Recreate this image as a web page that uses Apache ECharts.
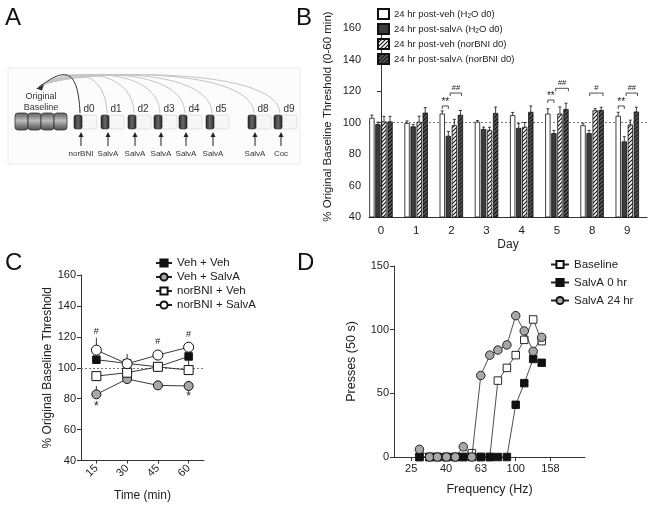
<!DOCTYPE html>
<html><head><meta charset="utf-8">
<script src="https://cdn.jsdelivr.net/npm/echarts@6/dist/echarts.min.js"></script>
<style>html,body{margin:0;padding:0;background:#fff}#c{width:652px;height:509px}</style>
</head><body><div id="c"></div>
<script>
const FONT = '"Liberation Sans",Arial,sans-serif';

// ---------- Panel A (schematic) ----------
const aDays = ['d0','d1','d2','d3','d4','d5','d8','d9'];
const aDrugs = ['norBNI','SalvA','SalvA','SalvA','SalvA','SalvA','SalvA','Coc'];

// ---------- Panel B ----------
const dayLabels = ['0','1','2','3','4','5','8','9'];
const bNames = ['24 hr post-veh (H2O d0)','24 hr post-salvA (H2O d0)','24 hr post-veh (norBNI d0)','24 hr post-salvA (norBNI d0)'];
const bVehH2O     = [102.7, 99.4, 105.4, 100.2, 104.4, 105.4, 98.0, 104.0];
const bVehH2OErr  = [2.0, 1.6, 2.0, 1.0, 2.0, 3.3, 1.5, 2.5];
const bSalvH2O    = [98.7, 97.3, 91.3, 95.6, 96.3, 93.0, 93.0, 87.7];
const bSalvH2OErr = [1.5, 1.5, 3.0, 1.5, 3.0, 2.0, 2.0, 3.3];
const bVehNor     = [100.4, 100.2, 98.0, 95.0, 97.0, 105.4, 107.5, 98.5];
const bVehNorErr  = [3.5, 3.8, 4.0, 2.0, 3.0, 4.5, 1.3, 3.0];
const bSalvNor    = [100.4, 106.0, 104.6, 105.8, 106.5, 108.3, 107.7, 106.7];
const bSalvNorErr = [3.5, 3.5, 3.0, 4.0, 4.0, 4.0, 2.0, 3.0];
const bSigDay  = [2, 2, 5, 5, 6, 7, 7];
const bSigFrom = [0, 1.3, 0, 1.3, 1.1, 0, 1.3];
const bSigTo   = [1, 3.2, 1, 3.4, 3.3, 1, 3.2];
const bSigY    = [110.5, 118.7, 114.3, 121.7, 118.7, 110.5, 118.7];
const bSigText = ['**','##','**','##','#','**','##'];

// ---------- Panel C ----------
const cTimes = ['15','30','45','60'];
const cNames = ['Veh + Veh','Veh + SalvA','norBNI + Veh','norBNI + SalvA'];
const cVehVeh   = [105.2, 102.8, 100.6, 107.3];
const cVehSalv  = [82.8, 92.7, 88.6, 88.2];
const cNorVeh   = [94.6, 96.8, 100.6, 98.5];
const cNorSalv  = [111.4, 102.6, 108.2, 113.3];
const cVehVehErr  = [0, 0, 0, -6];
const cVehSalvErr = [5.4, 0, 3, 3.5];
const cNorVehErr  = [0, 0, 0, 0];
const cNorSalvErr = [8, 6.4, 3, 3];
const cMarkIdx  = [0, 2, 3, 0, 3];
const cMarkY    = [123.5, 117, 121.5, 75, 81.5];
const cMarkText = ['#','#','#','*','*'];

// ---------- Panel D ----------
const dNames = ['Baseline','SalvA 0 hr','SalvA 24 hr'];
const dFreq     = [28, 32, 35.5, 40, 45, 50, 56, 63, 71, 79, 89, 100, 112, 126, 141];
const dBaseline = [0, 0, 0, 0, 0, 0, 3, 0, 0, 60, 70, 80, 92, 108, 91];
const dSalv0    = [0, 0, 0, 0, 0, 0, 0, 0, 0, 0, 0, 41, 58, 77, 74];
const dSalv24   = [6, 0, 0, 0, 0, 8, 0, 64, 80, 84, 88, 111, 99, 83, 94];

// ---------- helpers ----------
function hatch(bg, fg) {
  const c = document.createElement('canvas'); c.width = 4; c.height = 4;
  const g = c.getContext('2d');
  g.fillStyle = bg; g.fillRect(0, 0, 4, 4);
  g.strokeStyle = fg; g.lineWidth = 1.1;
  g.beginPath();
  g.moveTo(0, 4); g.lineTo(4, 0);
  g.moveTo(-1, 1); g.lineTo(1, -1);
  g.moveTo(3, 5); g.lineTo(5, 3);
  g.stroke();
  return { image: c, repeat: 'repeat' };
}
const bFills = ['#ffffff', '#3c3c3c', hatch('#ffffff', '#111111'), hatch('#5a5a5a', '#111111')];
const BAR_STEP = 0.172, BAR_W = 0.128;

function barRender(sIdx) {
  return function (params, api) {
    const x = api.value(0) + (sIdx - 1.5) * BAR_STEP;
    const v = api.value(1), e = api.value(2);
    const top = api.coord([x, v]);
    const base = api.coord([x, 40]);
    const et = api.coord([x, v + e]);
    const w = api.size([BAR_W, 0])[0];
    const cap = 3;
    return { type: 'group', children: [
      { type: 'line', shape: { x1: top[0], y1: top[1], x2: top[0], y2: et[1] }, style: { stroke: '#111', lineWidth: 0.8 } },
      { type: 'line', shape: { x1: top[0] - cap / 2, y1: et[1], x2: top[0] + cap / 2, y2: et[1] }, style: { stroke: '#111', lineWidth: 0.8 } },
      { type: 'rect', shape: { x: top[0] - w / 2, y: top[1], width: w, height: base[1] - top[1] }, style: { fill: bFills[sIdx], stroke: '#111', lineWidth: 0.8 } }
    ]};
  };
}
function sigRender(params, api) {
  const i = params.dataIndex;
  const d = api.value(0), y = api.value(3);
  const a = api.coord([d + (api.value(1) - 1.5) * BAR_STEP, y]);
  const b = api.coord([d + (api.value(2) - 1.5) * BAR_STEP, y]);
  const small = bSigText[i].indexOf('#') >= 0;
  return { type: 'group', children: [
    { type: 'polyline', shape: { points: [[a[0], a[1] + 3], [a[0], a[1]], [b[0], b[1]], [b[0], b[1] + 3]] }, style: { stroke: '#222', lineWidth: 0.8, fill: null } },
    { type: 'text', x: (a[0] + b[0]) / 2, y: a[1] - (small ? 1.5 : -1.5), style: { text: bSigText[i], fill: '#222', font: (small ? '7.5px ' : '10px ') + FONT, align: 'center', verticalAlign: 'bottom' } }
  ]};
}
function errRender(params, api) {
  const x = api.value(0), v = api.value(1), e = api.value(2);
  const p = api.coord([x, v]), q = api.coord([x, v + e]);
  const off = (e > 0 ? -1 : 1) * 4;
  return { type: 'line', shape: { x1: p[0], y1: p[1] + off, x2: q[0], y2: q[1] }, style: { stroke: '#222', lineWidth: 0.9 } };
}
function markRender(params, api) {
  const i = params.dataIndex;
  const p = api.coord([api.value(0), api.value(1)]);
  return { type: 'text', x: p[0], y: p[1], style: { text: cMarkText[i], fill: '#222', font: (cMarkText[i] === '*' ? '12px ' : '9px ') + FONT, align: 'center', verticalAlign: 'middle' } };
}

// ---------- build series ----------
const bVals = [bVehH2O, bSalvH2O, bVehNor, bSalvNor];
const bErrs = [bVehH2OErr, bSalvH2OErr, bVehNorErr, bSalvNorErr];
const series = [];
bVals.forEach(function (vals, s) {
  series.push({
    name: bNames[s], type: 'custom', xAxisIndex: 0, yAxisIndex: 0,
    renderItem: barRender(s),
    itemStyle: { color: bFills[s], borderColor: '#111', borderWidth: 0.8 },
    encode: { x: 0, y: 1 },
    data: vals.map(function (v, i) { return [i, v, bErrs[s][i]]; }),
    z: 3,
    markLine: s === 0 ? { silent: true, symbol: ['none', 'none'], label: { show: false }, lineStyle: { type: [2, 2], color: '#777', width: 1 }, data: [{ yAxis: 100 }], z: 1 } : undefined
  });
});
series.push({
  type: 'custom', name: 'sigB', xAxisIndex: 0, yAxisIndex: 0, renderItem: sigRender,
  encode: { x: 0, y: 3 },
  data: bSigDay.map(function (d, i) { return [d, bSigFrom[i], bSigTo[i], bSigY[i]]; }), z: 4
});

// Panel C
const cVals = [cVehVeh, cVehSalv, cNorVeh, cNorSalv];
const cErrs = [cVehVehErr, cVehSalvErr, cNorVehErr, cNorSalvErr];
const cSym = [
  { symbol: 'rect', size: 7.5, fill: '#111' },
  { symbol: 'circle', size: 9, fill: '#a8a8a8' },
  { symbol: 'rect', size: 9, fill: '#ffffff' },
  { symbol: 'circle', size: 10, fill: '#ffffff' }
];
cVals.forEach(function (vals, s) {
  series.push({
    type: 'custom', name: 'errC' + s, xAxisIndex: 1, yAxisIndex: 1, renderItem: errRender,
    encode: { x: 0, y: 1 }, z: 2,
    data: vals.map(function (v, i) { return [i, v, cErrs[s][i]]; }).filter(function (r) { return r[2] !== 0; })
  });
});
cVals.forEach(function (vals, s) {
  series.push({
    name: cNames[s], type: 'line', xAxisIndex: 1, yAxisIndex: 1, data: vals,
    symbol: cSym[s].symbol, symbolSize: cSym[s].size, showAllSymbol: true,
    lineStyle: { color: '#222', width: 0.9 },
    itemStyle: { color: cSym[s].fill, borderColor: '#111', borderWidth: 1, opacity: 1 },
    z: 5 + s,
    markLine: s === 0 ? { silent: true, symbol: ['none', 'none'], label: { show: false }, lineStyle: { type: [2, 2], color: '#777', width: 1 }, data: [{ yAxis: 100 }] } : undefined
  });
});
series.push({
  type: 'custom', name: 'markC', xAxisIndex: 1, yAxisIndex: 1, renderItem: markRender,
  encode: { x: 0, y: 1 },
  data: cMarkIdx.map(function (c, i) { return [c, cMarkY[i]]; }), z: 10
});

// Panel D
const dVals = [dBaseline, dSalv0, dSalv24];
const dSym = [
  { symbol: 'rect', size: 7.5, fill: '#ffffff' },
  { symbol: 'rect', size: 7.5, fill: '#111111' },
  { symbol: 'circle', size: 8.5, fill: '#a8a8a8' }
];
dVals.forEach(function (vals, s) {
  series.push({
    name: dNames[s], type: 'line', xAxisIndex: 2, yAxisIndex: 2,
    data: vals.map(function (v, i) { return [dFreq[i], v]; }),
    symbol: dSym[s].symbol, symbolSize: dSym[s].size, showAllSymbol: true,
    lineStyle: { color: '#222', width: 0.8 },
    itemStyle: { color: dSym[s].fill, borderColor: '#111', borderWidth: 0.9, opacity: 1 },
    z: 5 + s
  });
});

// ---------- axes ----------
const lineCol = '#333', txtCol = '#222';
function yAx(grid, min, max, interval, name, gap, margin, nameSize, namePad) {
  return {
    gridIndex: grid, type: 'value', min: min, max: max, interval: interval,
    axisLine: { show: true, lineStyle: { color: lineCol, width: 1 } },
    axisTick: { show: true, length: 4, lineStyle: { color: lineCol } },
    splitLine: { show: false },
    axisLabel: { fontSize: 11, color: txtCol, margin: margin, fontFamily: FONT },
    name: name, nameLocation: 'middle', nameGap: gap,
    nameTextStyle: { fontSize: nameSize, color: txtCol, fontFamily: FONT, padding: namePad || 0 }
  };
}

// ---------- Panel A graphic ----------
const graphic = [];
graphic.push({ type: 'rect', shape: { x: 8, y: 68, width: 292, height: 96 }, style: { fill: '#fcfcfc', stroke: '#ececec', lineWidth: 1 }, z: 0 });
const blockX = [74, 101, 128, 154, 179, 206, 248, 274];
for (let i = 0; i < 4; i++) {
  graphic.push({ type: 'rect', shape: { x: 15 + i * 13, y: 113, width: 13, height: 17, r: 3 },
    style: { fill: new echarts.graphic.LinearGradient(0, 0, 0, 1, [{ offset: 0, color: '#5a5a5a' }, { offset: 0.45, color: '#bdbdbd' }, { offset: 1, color: '#4a4a4a' }]), stroke: '#333', lineWidth: 0.8 }, z: 2 });
}
graphic.push({ type: 'text', x: 41, y: 97, style: { text: 'Original', font: '9px ' + FONT, fill: '#333', align: 'center', verticalAlign: 'middle' }, z: 3 });
graphic.push({ type: 'text', x: 41, y: 108, style: { text: 'Baseline', font: '9px ' + FONT, fill: '#333', align: 'center', verticalAlign: 'middle' }, z: 3 });
aDays.forEach(function (d, i) {
  const x = blockX[i];
  graphic.push({ type: 'bezierCurve', shape: { x1: x + 6, y1: 113, cpx1: x + 4, cpy1: 64, cpx2: 62, cpy2: 70, x2: 39, y2: 87 },
    style: { stroke: i === 0 ? '#333' : '#c4c4c4', lineWidth: 1, fill: null }, z: i === 0 ? 2 : 1 });
  graphic.push({ type: 'rect', shape: { x: x + 8, y: 115, width: 15, height: 14, r: 2 }, style: { fill: '#f6f6f6', stroke: '#dcdcdc', lineWidth: 0.8 }, z: 2 });
  graphic.push({ type: 'rect', shape: { x: x, y: 115, width: 8, height: 14, r: 2 },
    style: { fill: new echarts.graphic.LinearGradient(0, 0, 1, 0, [{ offset: 0, color: '#222' }, { offset: 0.5, color: '#6a6a6a' }, { offset: 1, color: '#222' }]), stroke: '#222', lineWidth: 0.6 }, z: 3 });
  graphic.push({ type: 'text', x: x + 15, y: 109, style: { text: d, font: '10px ' + FONT, fill: '#333', align: 'center', verticalAlign: 'middle' }, z: 3 });
  graphic.push({ type: 'line', shape: { x1: x + 7, y1: 146, x2: x + 7, y2: 135 }, style: { stroke: '#222', lineWidth: 1 }, z: 3 });
  graphic.push({ type: 'polygon', shape: { points: [[x + 7, 132], [x + 4.5, 137], [x + 9.5, 137]] }, style: { fill: '#222' }, z: 3 });
  graphic.push({ type: 'text', x: x + 7, y: 153.5, style: { text: aDrugs[i], font: '8px ' + FONT, fill: '#333', align: 'center', verticalAlign: 'middle' }, z: 3 });
});
graphic.push({ type: 'polygon', shape: { points: [[36, 88.5], [44, 84.5], [42, 90.5]] }, style: { fill: '#333' }, z: 3 });
[['A', 5, 18], ['B', 296, 18], ['C', 5, 263], ['D', 297, 263]].forEach(function (l) {
  graphic.push({ type: 'text', x: l[1], y: l[2], style: { text: l[0], font: '24px ' + FONT, fill: '#111', verticalAlign: 'middle' }, z: 5 });
});

const option = {
  animation: false,
  backgroundColor: '#ffffff',
  textStyle: { fontFamily: FONT },
  grid: [
    { left: 369, top: 28, width: 278, height: 189 },
    { left: 81, top: 275, width: 123, height: 185.5 },
    { left: 394, top: 266, width: 191, height: 191 }
  ],
  xAxis: [
    { gridIndex: 0, type: 'value', min: -0.34, max: 7.56,
      axisLine: { show: true, lineStyle: { color: lineCol } }, axisTick: { show: false }, splitLine: { show: false },
      axisLabel: { customValues: [0, 1, 2, 3, 4, 5, 6, 7], formatter: function (v) { return dayLabels[Math.round(v)]; }, fontSize: 11.5, color: txtCol, margin: 8, fontFamily: FONT },
      name: 'Day', nameLocation: 'middle', nameGap: 22, nameTextStyle: { fontSize: 12, color: txtCol, fontFamily: FONT } },
    { gridIndex: 1, type: 'category', data: cTimes, boundaryGap: true,
      axisLine: { show: true, lineStyle: { color: lineCol } }, axisTick: { show: true, alignWithLabel: true, length: 3, lineStyle: { color: lineCol } },
      axisLabel: { rotate: 45, fontSize: 11, color: txtCol, margin: 6, fontFamily: FONT },
      name: 'Time (min)', nameLocation: 'middle', nameGap: 29, nameTextStyle: { fontSize: 12, color: txtCol, fontFamily: FONT } },
    { gridIndex: 2, type: 'log', logBase: Math.pow(10, 0.2), min: 20, max: 250,
      axisLine: { show: true, lineStyle: { color: lineCol } }, axisTick: { show: true, length: 4, lineStyle: { color: lineCol } }, splitLine: { show: false },
      axisLabel: { showMinLabel: false, showMaxLabel: false, formatter: function (v) { return String(Math.round(v)); }, fontSize: 11, color: txtCol, margin: 6, fontFamily: FONT },
      name: 'Frequency (Hz)', nameLocation: 'middle', nameGap: 26, nameTextStyle: { fontSize: 12.5, color: txtCol, fontFamily: FONT } }
  ],
  yAxis: [
    yAx(0, 40, 160, 20, '% Original Baseline Threshold (0-60 min)', 35, 8, 11.5, [0, 0, 0, 12]),
    yAx(1, 40, 160, 20, '% Original Baseline Threshold', 27, 5, 12),
    yAx(2, 0, 150, 50, 'Presses (50 s)', 36, 5, 12.5)
  ],
  legend: [
    { data: bNames, orient: 'vertical', left: 372, top: 3, itemWidth: 11, itemHeight: 10, itemGap: 3, icon: 'rect', selectedMode: false,
      formatter: function (n) { return n.replace('H2O', 'H{sub|2}O'); },
      textStyle: { fontFamily: FONT, fontSize: 9.5, color: txtCol, lineHeight: 12, rich: { sub: { fontFamily: FONT, fontSize: 6.5, lineHeight: 4, verticalAlign: 'bottom' } } } },
    { data: cNames, orient: 'vertical', left: 150, top: 251, itemWidth: 16, itemHeight: 9, itemGap: 0, selectedMode: false,
      textStyle: { fontFamily: FONT, fontSize: 11.5, color: txtCol, lineHeight: 14 } },
    { data: dNames, orient: 'vertical', left: 545, top: 252, itemWidth: 18, itemHeight: 9, itemGap: 3, selectedMode: false,
      textStyle: { fontFamily: FONT, fontSize: 11.5, color: txtCol, lineHeight: 15 } }
  ],
  graphic: graphic,
  series: series
};
const chart = echarts.init(document.getElementById('c'));
chart.setOption(option);
</script></body></html>
